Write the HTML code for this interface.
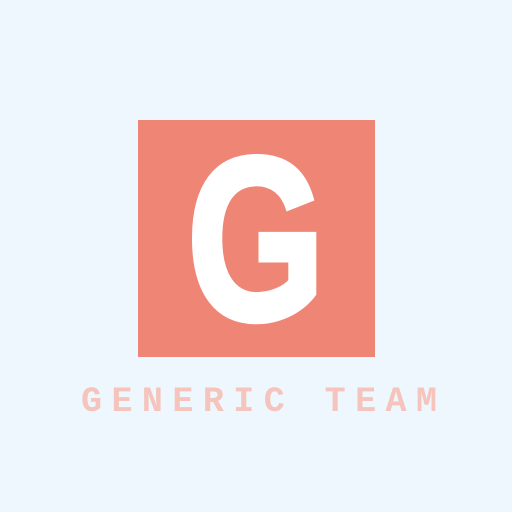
<!DOCTYPE html>
<html><head><style>
html,body{margin:0;padding:0;background:#EEF7FD;}
svg{display:block;}
</style></head><body>
<svg width="512" height="512" viewBox="0 0 512 512">
<rect x="0" y="0" width="512" height="512" fill="#EEF7FD"/>
<rect x="138" y="120" width="237" height="237" fill="#EF8575"/>
<text x="187" y="319" font-family="Liberation Sans, sans-serif" font-weight="bold" font-size="232" fill="#FFFFFF" stroke="#FFFFFF" stroke-width="6" textLength="138" lengthAdjust="spacingAndGlyphs">G</text>
<text x="81" y="411" font-family="Liberation Mono, monospace" font-weight="bold" font-size="35" fill="#F4C4BD" textLength="356" lengthAdjust="spacing">GENERIC TEAM</text>
</svg>
</body></html>
